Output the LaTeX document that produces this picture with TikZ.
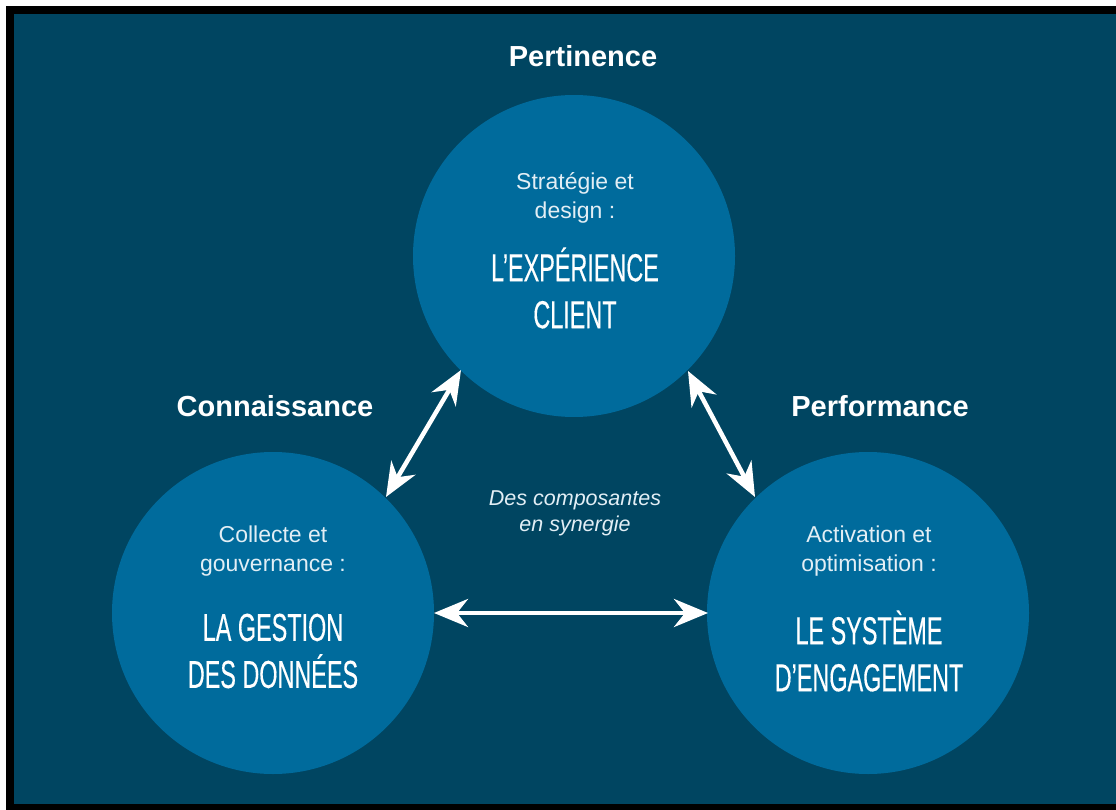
\documentclass[tikz,border=0pt]{standalone}
\usepackage{fontspec}
\setmainfont{Liberation Sans}
\newfontfamily\condfont[FakeStretch=0.6,FakeBold=0.3]{Liberation Sans}
\usetikzlibrary{arrows.meta}
\definecolor{bgteal}{HTML}{004561}
\definecolor{circblue}{HTML}{006B9C}
\definecolor{softwhite}{HTML}{E2EEF5}
\tikzset{
  bubble/.style={circle, fill=circblue, minimum size=322pt, inner sep=0pt},
  heading/.style={text=white, font=\fontsize{29}{34}\selectfont\bfseries},
  smalltxt/.style={text=softwhite, align=center, font=\fontsize{23}{29.5}\selectfont},
  bigtxt/.style={text=white, align=center, font=\condfont\fontsize{39}{47}\selectfont},
  midtxt/.style={text=softwhite, align=center, font=\fontsize{21.5}{26}\selectfont\itshape},
  link/.style={white, line width=4.5pt, {Stealth[length=34pt,width=28pt,inset=11pt]}-{Stealth[length=34pt,width=28pt,inset=11pt]}}
}
\begin{document}
\begin{tikzpicture}[x=1pt,y=-1pt]
\useasboundingbox (0,0) rectangle (1116,810);
\fill[white] (0,0) rectangle (1116,810);
\fill[black] (6,6) rectangle (1116,810);
\fill[bgteal] (14,14) rectangle (1116,804);
% circles
\node[bubble] (top) at (574,256) {};
\node[bubble] (left) at (273,613) {};
\node[bubble] (right) at (868,613) {};
% headings
\node[heading] (hper) at (583,56) {Pertinence};
\node[heading] (hcon) at (275,406) {Connaissance};
\node[heading] (hperf) at (880,406) {Performance};
% circle texts
\node[smalltxt] (tops) at (575,198) {Stratégie et\\design :};
\node[bigtxt] (topb) at (575,288) {L’EXPÉRIENCE\\CLIENT};
\node[smalltxt] (lefts) at (273,551) {Collecte et\\gouvernance :};
\node[bigtxt] (leftb) at (273,651) {LA GESTION\\DES DONNÉES};
\node[smalltxt] (rights) at (869,551) {Activation et\\optimisation :};
\node[bigtxt] (rightb) at (869,651) {LE SYSTÈME\\D’ENGAGEMENT};
% middle
\node[midtxt] (mid) at (575,513) {Des composantes\\en synergie};
% arrows
\coordinate (a1) at (386,497);
\coordinate (a2) at (461,370);
\coordinate (b1) at (688,371);
\coordinate (b2) at (755,497);
\coordinate (c1) at (434,613);
\coordinate (c2) at (708,613);
\draw[link] (a1) -- (a2);
\draw[link] (b1) -- (b2);
\draw[link] (c1) -- (c2);
\end{tikzpicture}
\end{document}
